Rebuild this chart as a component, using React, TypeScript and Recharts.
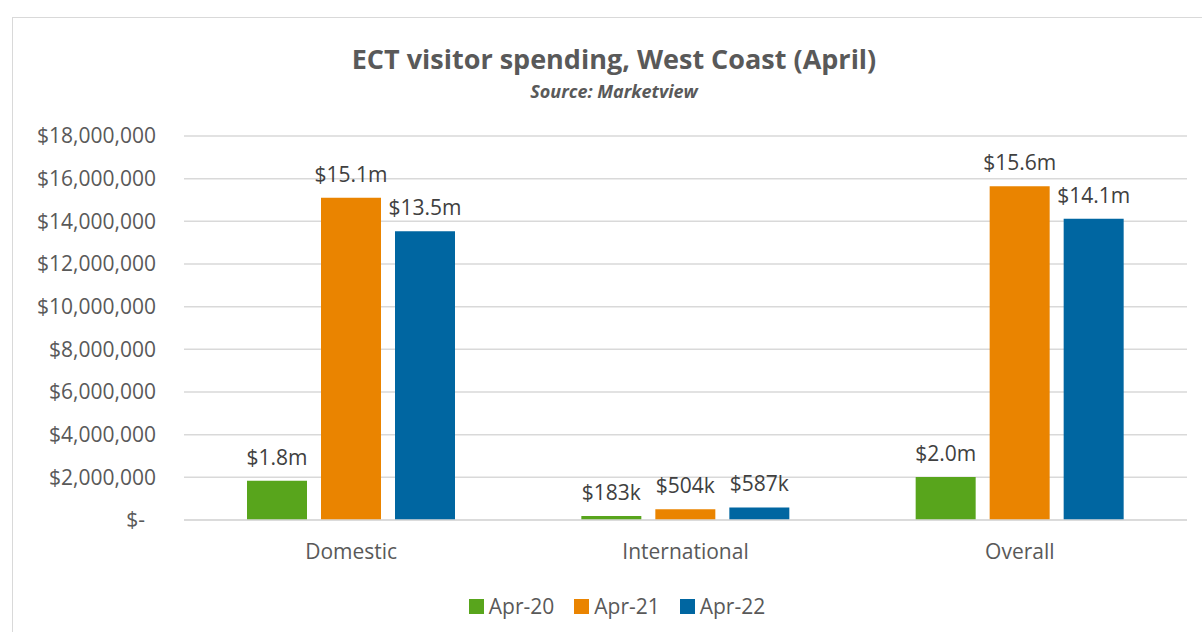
import {
  BarChart,
  Bar,
  XAxis,
  YAxis,
  CartesianGrid,
  Legend,
  LabelList,
} from "recharts";

const categories = ["Domestic", "International", "Overall"];
const apr20 = [1_840_000, 183_000, 2_020_000];
const apr21 = [15_100_000, 504_000, 15_640_000];
const apr22 = [13_540_000, 587_000, 14_120_000];
const yTicks = [0, 2e6, 4e6, 6e6, 8e6, 10e6, 12e6, 14e6, 16e6, 18e6];

const series = [
  { key: "apr20", name: "Apr-20", color: "#58A51C" },
  { key: "apr21", name: "Apr-21", color: "#EA8400" },
  { key: "apr22", name: "Apr-22", color: "#0066A1" },
];

const data = categories.map((c, i) => ({
  name: c,
  apr20: apr20[i],
  apr21: apr21[i],
  apr22: apr22[i],
}));

const FONT = "'Open Sans', sans-serif";
const GREY = "#595959";

function shortMoney(v: any) {
  const n = Number(v);
  if (n >= 1e6) return `$${(n / 1e6).toFixed(1)}m`;
  return `$${Math.round(n / 1e3)}k`;
}

function YTick(props: any) {
  const { x, y, payload } = props;
  const v = payload.value;
  const label = v === 0 ? "$-" : "$" + v.toLocaleString("en-US");
  return (
    <text
      x={v === 0 ? x - 11 : x}
      y={y}
      dy="0.35em"
      textAnchor="end"
      fill={GREY}
      fontSize={21}
      fontFamily={FONT}
    >
      {label}
    </text>
  );
}

function LegendContent(props: any) {
  const { payload } = props;
  return (
    <div style={{ display: "flex", justifyContent: "center", gap: 20 }}>
      {payload.map((p: any) => (
        <div key={p.value} style={{ display: "flex", alignItems: "center" }}>
          <span
            style={{
              width: 15,
              height: 15,
              background: p.color,
              marginRight: 5,
              display: "inline-block",
            }}
          />
          <span style={{ color: GREY, fontSize: 21, fontFamily: FONT }}>
            {p.value}
          </span>
        </div>
      ))}
    </div>
  );
}

export default function App() {
  return (
    <div
      style={{
        position: "absolute",
        left: 0,
        top: 0,
        width: 1202,
        height: 632,
        background: "#fff",
        fontFamily: FONT,
      }}
    >
      <div
        style={{
          position: "absolute",
          left: 12,
          top: 17,
          width: 1200,
          height: 630,
          border: "1px solid #d9d9d9",
        }}
      />
      <div
        style={{
          position: "absolute",
          left: 0,
          width: 1228,
          top: 40,
          textAlign: "center",
          color: GREY,
          fontWeight: 700,
          fontSize: 27,
        }}
      >
        ECT visitor spending, West Coast (April)
      </div>
      <div
        style={{
          position: "absolute",
          left: 0,
          width: 1228,
          top: 79,
          textAlign: "center",
          color: GREY,
          fontWeight: 700,
          fontStyle: "italic",
          fontSize: 18,
        }}
      >
        Source: Marketview
      </div>
      <BarChart
        width={1202}
        height={632}
        data={data}
        margin={{ top: 136, right: 15, bottom: 82, left: 0 }}
        barGap={14}
        style={{ position: "absolute", left: 0, top: 0 }}
      >
        <CartesianGrid vertical={false} stroke="#d9d9d9" strokeWidth={1.5} />
        <XAxis
          dataKey="name"
          axisLine={{ stroke: "#d9d9d9", strokeWidth: 1.5 }}
          tickLine={false}
          tickSize={0}
          tickMargin={24}
          tick={{ fill: GREY, fontSize: 21, fontFamily: FONT }}
        />
        <YAxis
          width={184}
          domain={[0, 18e6]}
          ticks={yTicks}
          axisLine={false}
          tickLine={false}
          tickSize={0}
          tickMargin={28}
          tick={<YTick />}
          interval={0}
        />
        <Legend
          verticalAlign="middle"
          align="center"
          content={<LegendContent />}
          wrapperStyle={{ top: 592, left: 16, width: 1202 }}
        />
        {series.map((s) => (
          <Bar
            key={s.key}
            dataKey={s.key}
            name={s.name}
            fill={s.color}
            barSize={60}
            isAnimationActive={false}
          >
            <LabelList
              dataKey={s.key}
              position="top"
              offset={16}
              formatter={shortMoney}
              fill="#404040"
              fontSize={21}
              fontFamily={FONT}
            />
          </Bar>
        ))}
      </BarChart>
    </div>
  );
}
